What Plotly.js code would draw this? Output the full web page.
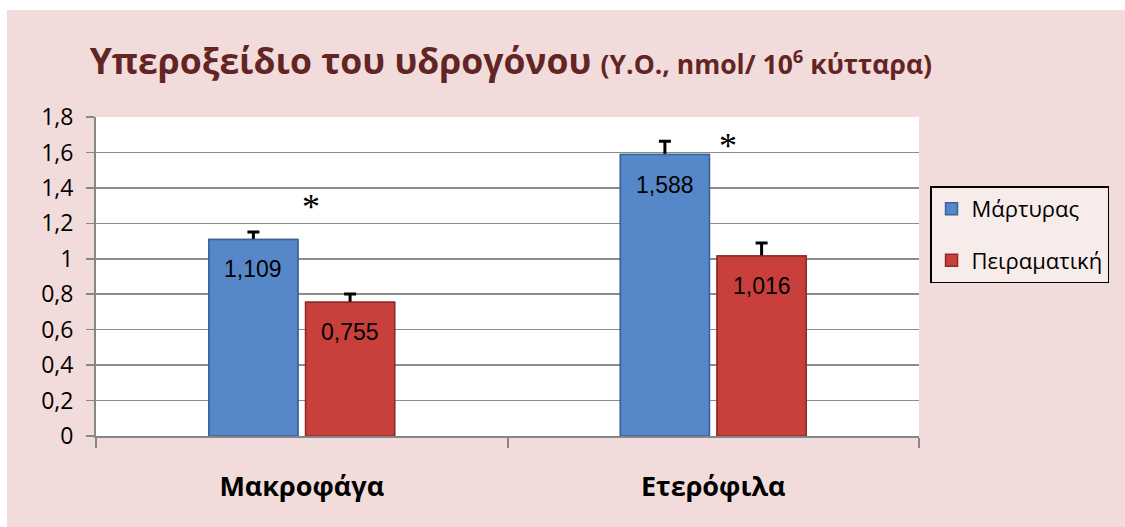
<!DOCTYPE html>
<html>
<head>
<meta charset="utf-8">
<script src="https://cdn.plot.ly/plotly-3.0.1.min.js"></script>
<style>
  html, body { margin: 0; padding: 0; background: #ffffff; }
  #chart { position: absolute; left: 7px; top: 10px; width: 1118px; height: 517px; }
</style>
</head>
<body>
<div id="chart"></div>
<script>
// ---- data ----
const categories = ['Μακροφάγα', 'Ετερόφιλα'];
const seriesNames = ['Μάρτυρας', 'Πειραματική'];
const controlValues = [1.109, 1.588];
const experimentalValues = [0.755, 1.016];
const controlErrors = [0.042, 0.075];
const experimentalErrors = [0.046, 0.073];
const controlLabels = ['1,109', '1,588'];
const experimentalLabels = ['0,755', '1,016'];
// significance markers: category index, offset within category, value
const sigCategory = [0, 1];
const sigOffset = [0.022, 0.036];
const sigValue = [1.32, 1.665];

const BARGAP = 0.53;
const slotHalf = (1 - BARGAP) / 4;
const FONT = "'Open Sans', 'Liberation Sans', sans-serif";
const NUMFONT = "'Liberation Sans', Arial, sans-serif";
const BLUE = '#5688c9', BLUE_LINE = '#3a639a';
const RED = '#c93f3c', RED_LINE = '#8e2b29';

function errSpec(arr) {
  return { type: 'data', array: arr, arrayminus: arr.map(() => 0.03), symmetric: false,
           color: '#000000', thickness: 3, width: 6 };
}

const traces = [
  // base bars with error bars (legend)
  { type: 'bar', name: seriesNames[0], x: categories, y: controlValues, legendgroup: 'a',
    marker: { color: BLUE, line: { color: BLUE_LINE, width: 1.5 } },
    error_y: errSpec(controlErrors), hoverinfo: 'none' },
  { type: 'bar', name: seriesNames[1], x: categories, y: experimentalValues, legendgroup: 'b',
    marker: { color: RED, line: { color: RED_LINE, width: 1.5 } },
    error_y: errSpec(experimentalErrors), hoverinfo: 'none' },
  // overlay bars (cover lower half of error bars -> "T" caps)
  { type: 'bar', name: seriesNames[0], x: categories, y: controlValues, xaxis: 'x2', yaxis: 'y2',
    showlegend: false, marker: { color: BLUE, line: { color: BLUE_LINE, width: 1.5 } }, hoverinfo: 'none' },
  { type: 'bar', name: seriesNames[1], x: categories, y: experimentalValues, xaxis: 'x2', yaxis: 'y2',
    showlegend: false, marker: { color: RED, line: { color: RED_LINE, width: 1.5 } }, hoverinfo: 'none' }
];

const annotations = [];
controlValues.forEach((v, i) => annotations.push({
  x: i - slotHalf, y: v, xref: 'x', yref: 'y', text: controlLabels[i], showarrow: false,
  yshift: -30, yanchor: 'middle', font: { family: NUMFONT, size: 23, color: '#000' }
}));
experimentalValues.forEach((v, i) => annotations.push({
  x: i + slotHalf, y: v, xref: 'x', yref: 'y', text: experimentalLabels[i], showarrow: false,
  yshift: -30, yanchor: 'middle', font: { family: NUMFONT, size: 23, color: '#000' }
}));
sigCategory.forEach((c, i) => annotations.push({
  x: c + sigOffset[i], y: sigValue[i], xref: 'x', yref: 'y', text: '*', showarrow: false,
  yanchor: 'middle', yshift: -5, font: { family: "'Liberation Serif', serif", size: 36, color: '#000' }
}));

const layout = {
  width: 1118, height: 517,
  paper_bgcolor: '#f2dcdb', plot_bgcolor: '#ffffff',
  margin: { l: 89, r: 206, t: 107, b: 91, pad: 0 },
  separators: ',.',
  barmode: 'group', bargap: BARGAP, bargroupgap: 0.08,
  title: {
    text: 'Υπεροξείδιο του υδρογόνου <span style="font-size:26.5px">(Υ.Ο., nmol/ 10<sup>6</sup> κύτταρα)</span>',
    font: { family: FONT, size: 35.5, color: '#632523', weight: 'bold' },
    xref: 'container', yref: 'container', x: 0.074, xanchor: 'left', y: 0.9, yanchor: 'middle'
  },
  xaxis: {
    type: 'category', showgrid: false, showline: true, linecolor: '#878787', linewidth: 2,
    ticks: 'outside', tickson: 'boundaries', ticklen: 10, tickwidth: 2, tickcolor: '#878787',
    ticklabelstandoff: 26,
    tickfont: { family: FONT, size: 27, color: '#000', weight: 'bold' },
    fixedrange: true
  },
  yaxis: {
    range: [0, 1.8], dtick: 0.2, tick0: 0, showgrid: true, gridcolor: '#8c8c8c', gridwidth: 1.5,
    showline: true, linecolor: '#878787', linewidth: 2, zeroline: false,
    ticks: 'outside', ticklen: 8, tickwidth: 1.5, tickcolor: '#878787',
    ticklabelstandoff: 8,
    tickfont: { family: FONT, size: 23, color: '#000' },
    fixedrange: true
  },
  xaxis2: { type: 'category', overlaying: 'x', visible: false, fixedrange: true },
  yaxis2: { overlaying: 'y', range: [0, 1.8], visible: false, fixedrange: true },
  legend: {
    x: 1.0134, xanchor: 'left', y: 0.7826, yanchor: 'top',
    bgcolor: '#f8eceb', bordercolor: '#000000', borderwidth: 1.5,
    font: { family: FONT, size: 22, color: '#000' },
    traceorder: 'grouped', tracegroupgap: 20, itemwidth: 30
  },
  annotations: annotations,
  showlegend: true
};

Plotly.newPlot('chart', traces, layout, { displayModeBar: false, staticPlot: true });
</script>
</body>
</html>
